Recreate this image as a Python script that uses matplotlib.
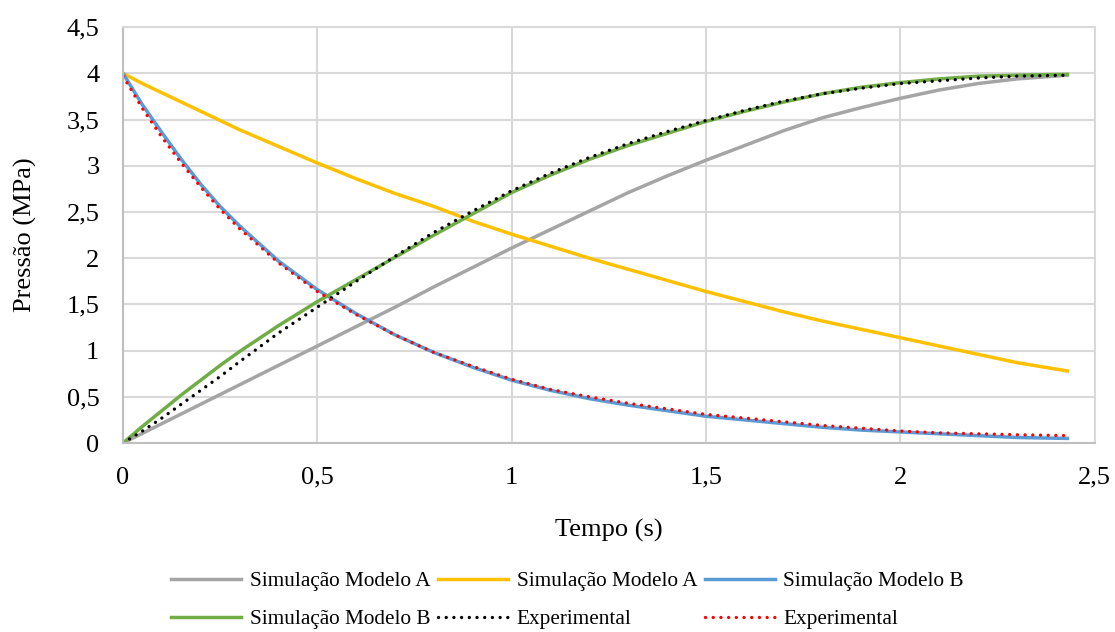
"""Pressure vs time: simulated models A/B against experimental curves."""

import matplotlib

matplotlib.use("Agg")
import matplotlib.pyplot as plt
from matplotlib.ticker import FuncFormatter, MultipleLocator

plt.rcParams["font.family"] = ["Liberation Serif", "DejaVu Serif"]

tempo = [0, 0.05, 0.1, 0.15, 0.2, 0.25, 0.3, 0.4, 0.5, 0.6, 0.7, 0.8, 0.9,
         1.0, 1.1, 1.2, 1.3, 1.4, 1.5, 1.6, 1.7, 1.8, 1.9, 2.0, 2.1, 2.2,
         2.3, 2.43]

sim_a_sobe = [0, 0.105, 0.21, 0.315, 0.42, 0.525, 0.63, 0.84, 1.05, 1.26,
              1.47, 1.69, 1.90, 2.11, 2.31, 2.51, 2.71, 2.89, 3.06, 3.22,
              3.38, 3.52, 3.63, 3.73, 3.82, 3.89, 3.94, 3.98]
sim_a_desce = [4.00, 3.89, 3.79, 3.69, 3.59, 3.49, 3.39, 3.21, 3.03, 2.86,
               2.70, 2.56, 2.40, 2.26, 2.13, 2.00, 1.88, 1.76, 1.64, 1.53,
               1.42, 1.32, 1.23, 1.14, 1.05, 0.96, 0.87, 0.78]
sim_b_desce = [4.00, 3.66, 3.36, 3.07, 2.80, 2.56, 2.35, 1.97, 1.66, 1.40,
               1.17, 0.98, 0.82, 0.68, 0.57, 0.48, 0.41, 0.35, 0.29, 0.25,
               0.21, 0.17, 0.14, 0.12, 0.10, 0.08, 0.06, 0.05]
sim_b_sobe = [0, 0.18, 0.35, 0.52, 0.68, 0.84, 0.99, 1.27, 1.53, 1.77,
              2.01, 2.25, 2.48, 2.71, 2.90, 3.07, 3.22, 3.35, 3.48, 3.59,
              3.69, 3.78, 3.85, 3.90, 3.94, 3.97, 3.98, 3.99]
exp_sobe = [0, 0.13, 0.27, 0.42, 0.57, 0.72, 0.88, 1.19, 1.47, 1.75,
            2.02, 2.28, 2.51, 2.73, 2.92, 3.09, 3.24, 3.37, 3.49, 3.60,
            3.70, 3.78, 3.84, 3.89, 3.92, 3.95, 3.97, 3.98]
exp_desce = [3.97, 3.62, 3.31, 3.03, 2.77, 2.53, 2.32, 1.95, 1.64, 1.39,
             1.17, 0.98, 0.83, 0.69, 0.58, 0.50, 0.43, 0.37, 0.31, 0.27,
             0.23, 0.19, 0.16, 0.13, 0.11, 0.10, 0.09, 0.08]

GRID = "#d9d9d9"


def virgula(value, _pos):
    return f"{value:g}".replace(".", ",")


fig = plt.figure(figsize=(11.15, 6.32), dpi=100)
ax = fig.add_axes([0.1103, 0.299, 0.8714, 0.658])

lw = 2.5
dots = (0, (0.01, 2.3))
l_gray, = ax.plot(tempo, sim_a_sobe, color="#a5a5a5", lw=lw, label="Simulação Modelo A")
l_yel, = ax.plot(tempo, sim_a_desce, color="#ffc000", lw=lw, label="Simulação Modelo A")
l_blue, = ax.plot(tempo, sim_b_desce, color="#5b9bd5", lw=lw, label="Simulação Modelo B")
l_green, = ax.plot(tempo, sim_b_sobe, color="#70ad47", lw=lw, label="Simulação Modelo B")
l_blk, = ax.plot(tempo, exp_sobe, color="black", lw=2.4, ls=dots,
                 dash_capstyle="round", label="Experimental")
l_red, = ax.plot(tempo, exp_desce, color="#ff0000", lw=2.4, ls=dots,
                 dash_capstyle="round", label="Experimental")

ax.set_xlim(0, 2.5)
ax.set_ylim(0, 4.5)
ax.xaxis.set_major_locator(MultipleLocator(0.5))
ax.yaxis.set_major_locator(MultipleLocator(0.5))
ax.xaxis.set_major_formatter(FuncFormatter(virgula))
ax.yaxis.set_major_formatter(FuncFormatter(virgula))
ax.grid(True, color=GRID, lw=1.5)
ax.set_axisbelow(True)
for side in ["top", "right"]:
    ax.spines[side].set_color(GRID)
    ax.spines[side].set_linewidth(1.5)
for side in ["left", "bottom"]:
    ax.spines[side].set_color("#bfbfbf")
    ax.spines[side].set_linewidth(1.5)
ax.tick_params(length=0, labelsize=19, pad=17)

ax.set_xlabel("Tempo (s)", fontsize=19, labelpad=22)
ax.set_ylabel("Pressão (MPa)", fontsize=19, labelpad=21)

# legend fills column-wise, so order handles to read row by row
handles = [l_gray, l_green, l_yel, l_blk, l_blue, l_red]
fig.legend(handles, [h.get_label() for h in handles], ncol=3,
           loc="center", bbox_to_anchor=(0.509, 0.05), frameon=False,
           fontsize=15.3, handlelength=3.3, handletextpad=0.4,
           columnspacing=0.35, labelspacing=0.85)

fig.savefig("out.png", dpi=100)
